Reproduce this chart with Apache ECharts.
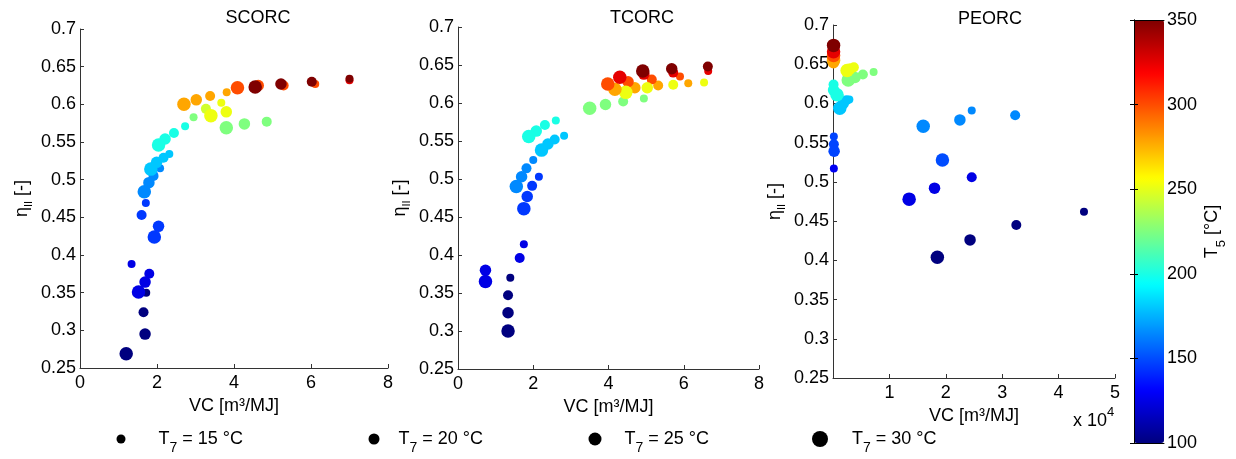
<!DOCTYPE html>
<html><head><meta charset="utf-8">
<script src="https://cdn.jsdelivr.net/npm/echarts@6/dist/echarts.min.js"></script>
<style>html,body{margin:0;padding:0;background:#fff}#c{width:1236px;height:459px}</style>
</head><body><div id="c"></div>
<script>
// ---------- DATA: each point = [VC, eta_II, T5 (°C)] ----------
const panelTitles = ['SCORC', 'TCORC', 'PEORC'];
const t7Levels = [15, 20, 25, 30];
const t7Names = ['T7 = 15 °C', 'T7 = 20 °C', 'T7 = 25 °C', 'T7 = 30 °C'];
const yTickLabels = [0.25, 0.3, 0.35, 0.4, 0.45, 0.5, 0.55, 0.6, 0.65, 0.7];
const xTickLabelsOrc = [0, 2, 4, 6, 8];
const xTickLabelsPeorc = [0, 1, 2, 3, 4, 5]; // x 10^4
const colorbarTicks = [100, 150, 200, 250, 300, 350];

// SCORC
const scorc15 = [[1.72,0.350,100],[1.34,0.388,125],[1.71,0.469,145],[2.08,0.515,165],[2.32,0.534,180],[2.73,0.571,200],[2.95,0.583,225],[3.67,0.602,252],[3.81,0.616,278],[6.11,0.627,300],[7.00,0.632,325],[7.00,0.634,350]];
const scorc20 = [[1.65,0.324,100],[1.80,0.375,125],[1.60,0.453,145],[1.91,0.505,165],[2.17,0.529,180],[2.44,0.562,200],[4.85,0.577,225],[3.27,0.594,245],[3.38,0.611,278],[5.29,0.625,300],[6.02,0.630,350]];
const scorc25 = [[1.69,0.295,100],[1.69,0.364,125],[2.04,0.438,145],[1.79,0.496,165],[1.99,0.523,180],[2.21,0.554,200],[4.27,0.574,225],[3.80,0.590,252],[3.02,0.606,278],[4.63,0.625,300],[5.22,0.627,350]];
const scorc30 = [[1.20,0.269,100],[1.52,0.351,125],[1.93,0.424,145],[1.67,0.484,165],[1.84,0.514,180],[2.04,0.546,200],[3.80,0.569,225],[3.40,0.585,252],[2.70,0.600,278],[4.09,0.622,300],[4.55,0.623,350]];
// TCORC
const tcorc15 = [[1.39,0.370,100],[1.75,0.414,125],[2.15,0.503,145],[2.00,0.525,165],[2.82,0.557,180],[2.60,0.577,200],[4.94,0.606,225],[6.54,0.627,252],[6.12,0.626,278],[5.90,0.635,300],[6.65,0.642,325]];
const tcorc20 = [[1.33,0.347,100],[1.64,0.396,125],[1.97,0.491,145],[1.82,0.514,165],[2.57,0.552,180],[2.31,0.571,200],[4.39,0.602,225],[5.72,0.624,252],[5.32,0.623,278],[5.15,0.631,300],[5.72,0.640,325],[6.64,0.648,350]];
const tcorc25 = [[1.33,0.324,100],[0.73,0.380,125],[1.84,0.477,145],[1.69,0.503,165],[2.39,0.546,180],[2.08,0.563,200],[3.92,0.598,225],[5.03,0.620,252],[4.70,0.620,278],[4.52,0.628,300],[4.94,0.638,325],[5.68,0.645,350]];
const tcorc30 = [[1.33,0.300,100],[0.73,0.365,125],[1.75,0.461,145],[1.55,0.490,165],[2.22,0.538,180],[1.88,0.556,200],[3.50,0.593,225],[4.46,0.614,252],[4.17,0.618,278],[3.98,0.625,300],[4.30,0.634,325],[4.91,0.642,350]];
// PEORC
const peorc15 = [[44500,0.462,100],[150,0.517,128],[150,0.558,148],[24600,0.591,165],[2900,0.605,180],[1200,0.609,200],[7200,0.640,225],[3300,0.645,252],[60,0.667,350]];
const peorc20 = [[32500,0.445,100],[24600,0.506,125],[150,0.548,148],[32300,0.585,165],[2400,0.604,180],[100,0.624,200],[5300,0.637,225],[3700,0.646,252],[80,0.669,350]];
const peorc25 = [[24300,0.426,100],[18000,0.492,125],[200,0.539,148],[22500,0.579,165],[1800,0.600,180],[100,0.617,200],[3900,0.633,225],[3000,0.644,252],[80,0.652,278],[80,0.659,300],[80,0.664,325],[100,0.671,350]];
const peorc30 = [[18500,0.404,100],[13500,0.478,125],[19400,0.528,150],[16000,0.571,165],[1200,0.594,180],[700,0.611,200],[2700,0.630,225],[2500,0.642,252],[100,0.655,278],[100,0.661,300],[100,0.666,325],[100,0.674,350]];

const panelData = [
  [scorc15, scorc20, scorc25, scorc30],
  [tcorc15, tcorc20, tcorc25, tcorc30],
  [peorc15, peorc20, peorc25, peorc30]
];

// ---------- STYLE ----------
const FONT = '"Liberation Sans", Arial, sans-serif';
const AX = '#333';
const markerSizes = [8, 10, 11.5, 13.5];
const jet = ['#00007f','#0000ff','#007fff','#00ffff','#7fff7f','#ffff00','#ff7f00','#ff0000','#7f0000'];

const grids = [
  {left: 80, top: 29, width: 308, height: 339},
  {left: 458, top: 27, width: 301, height: 342},
  {left: 833, top: 25, width: 282, height: 353},
  {left: 1134, top: 20, width: 30, height: 423}
];

const etaName = '{a|η}{s|II}{a| [-]}';
const etaRich = {
  a: {fontSize: 18, fontFamily: FONT, color: '#000'},
  s: {fontSize: 11, fontFamily: FONT, color: '#000', padding: [13, 0, 0, 0]}
};

function xAxisFor(i, ticks, fmt, showMin) {
  return {
    gridIndex: i, type: 'value', min: ticks[0], max: ticks[ticks.length - 1],
    interval: ticks[1] - ticks[0],
    name: 'VC [m³/MJ]', nameLocation: 'middle', nameGap: 26,
    nameTextStyle: {fontSize: 18, color: '#000', fontFamily: FONT},
    axisLine: {show: true, onZero: false, lineStyle: {color: AX, width: 1}},
    axisTick: {show: true, inside: true, length: 4, lineStyle: {color: AX}},
    axisLabel: {fontSize: 18, color: '#000', fontFamily: FONT, margin: 6, showMinLabel: showMin, formatter: fmt},
    splitLine: {show: false}
  };
}
function yAxisFor(i, gap) {
  return {
    gridIndex: i, type: 'value', min: yTickLabels[0], max: yTickLabels[yTickLabels.length - 1],
    interval: 0.05,
    name: etaName, nameLocation: 'middle', nameGap: gap, nameRotate: 90,
    nameTextStyle: {rich: etaRich},
    axisLine: {show: true, onZero: false, lineStyle: {color: AX, width: 1}},
    axisTick: {show: true, inside: true, length: 4, lineStyle: {color: AX}},
    axisLabel: {fontSize: 18, color: '#000', fontFamily: FONT, margin: 4,
      formatter: v => String(Math.round(v * 100) / 100)},
    splitLine: {show: false}
  };
}

const xAxes = [
  xAxisFor(0, xTickLabelsOrc, v => String(v), true),
  xAxisFor(1, xTickLabelsOrc, v => String(v), true),
  Object.assign(xAxisFor(2, xTickLabelsPeorc.map(v => v * 10000), v => String(Math.round(v / 10000)), false), {nameGap: 26}),
  // colorbar frame (bottom / top)
  {gridIndex: 3, type: 'value', min: 0, max: 1, position: 'bottom', z: 5,
   axisLine: {show: true, lineStyle: {color: '#000'}}, axisTick: {show: false}, axisLabel: {show: false}, splitLine: {show: false}},
  {gridIndex: 3, type: 'value', min: 0, max: 1, position: 'top', z: 5,
   axisLine: {show: true, lineStyle: {color: '#000'}}, axisTick: {show: false}, axisLabel: {show: false}, splitLine: {show: false}}
];
const yAxes = [
  yAxisFor(0, 46), yAxisFor(1, 46), yAxisFor(2, 46),
  {gridIndex: 3, type: 'value', min: colorbarTicks[0], max: colorbarTicks[colorbarTicks.length - 1],
   interval: 50, position: 'right', z: 5,
   name: '{a|T}{s|5}{a| [°C]}', nameLocation: 'middle', nameRotate: 90, nameGap: 33,
   nameTextStyle: {rich: {a: {fontSize: 18, fontFamily: FONT, color: '#000'},
                          s: {fontSize: 13, fontFamily: FONT, color: '#000', padding: [18, 0, 0, 0]}}},
   axisLine: {show: true, lineStyle: {color: '#000'}},
   axisTick: {show: true, inside: true, length: 4, lineStyle: {color: '#000'}},
   axisLabel: {fontSize: 18, color: '#000', fontFamily: FONT, margin: 3},
   splitLine: {show: false}},
  {gridIndex: 3, type: 'value', min: colorbarTicks[0], max: colorbarTicks[colorbarTicks.length - 1],
   interval: 50, position: 'left', z: 5,
   axisLine: {show: true, lineStyle: {color: '#000'}},
   axisTick: {show: true, inside: true, length: 4, lineStyle: {color: '#000'}},
   axisLabel: {show: false}, splitLine: {show: false}}
];

const series = [];
panelData.forEach((sets, p) => {
  sets.forEach((pts, k) => {
    series.push({
      type: 'scatter', name: t7Names[k], xAxisIndex: p, yAxisIndex: p,
      data: pts, symbol: 'circle', symbolSize: markerSizes[k],
      itemStyle: {opacity: 1, borderWidth: 0},
      emphasis: {disabled: true}
    });
  });
});

const legendSpecs = [
  {left: 116.5, size: 9, pad: 28},
  {left: 368.5, size: 11, pad: 14},
  {left: 588.5, size: 13, pad: 18},
  {left: 812, size: 16, pad: 19}
];
const legends = legendSpecs.map((l, k) => ({
  data: [t7Names[k]], left: l.left, top: 430, orient: 'horizontal', padding: 0,
  itemWidth: l.size, itemHeight: l.size, icon: 'circle', selectedMode: false,
  itemStyle: {color: '#000', borderWidth: 0},
  formatter: () => '{b|T}{s|7}{a| = ' + t7Levels[k] + ' °C}',
  textStyle: {rich: {
    b: {fontSize: 18, fontFamily: FONT, color: '#000', padding: [0, 0, 0, l.pad]},
    a: {fontSize: 18, fontFamily: FONT, color: '#000'},
    s: {fontSize: 14, fontFamily: FONT, color: '#000', padding: [18, 0, 0, 0]}
  }}
}));

const titleX = [258, 642, 990];
const titleTop = [9, 9, 10];
const titles = panelTitles.map((t, i) => ({
  text: t, left: titleX[i], top: titleTop[i], textAlign: 'center', padding: 0,
  textStyle: {fontSize: 18, fontWeight: 'normal', color: '#000', fontFamily: FONT}
}));

const chart = echarts.init(document.getElementById('c'), null, {renderer: 'canvas'});
chart.setOption({
  animation: false,
  backgroundColor: '#fff',
  title: titles,
  grid: grids,
  xAxis: xAxes,
  yAxis: yAxes,
  legend: legends,
  visualMap: {
    type: 'continuous', min: 100, max: 350, dimension: 2,
    seriesIndex: series.map((s, i) => i),
    inRange: {color: jet},
    left: 1134, top: 20, itemWidth: 30, itemHeight: 423, padding: 0,
    calculable: false, hoverLink: false, orient: 'vertical', z: 1,
    text: null, textStyle: {fontSize: 0}
  },
  graphic: [{
    type: 'text', z: 10,
    style: {
      x: 1073, y: 421, text: '{a|x 10}{p|4}', verticalAlign: 'middle', align: 'left',
      rich: {a: {fontSize: 18, fontFamily: FONT, fill: '#000', color: '#000'},
             p: {fontSize: 13, fontFamily: FONT, fill: '#000', color: '#000', padding: [0, 0, 17, 0]}}
    }
  }],
  series: series
});
</script>
</body></html>
